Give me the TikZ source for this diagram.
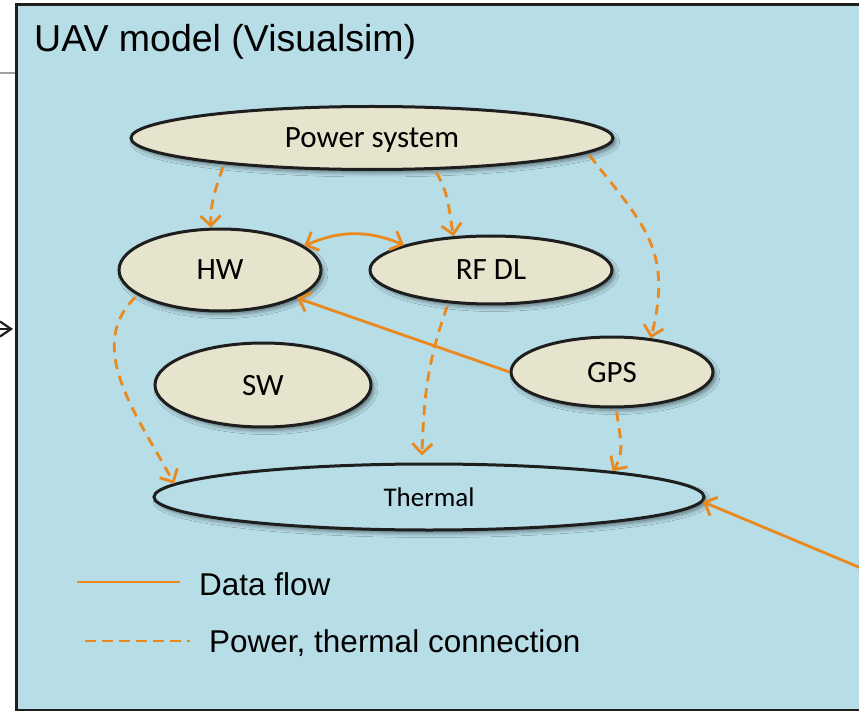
\documentclass[tikz,border=0pt]{standalone}
\usepackage{fontspec}
\setmainfont{Carlito}
\newfontfamily\arialfont{Liberation Sans}
\usetikzlibrary{arrows.meta,shapes.geometric,shadows.blur}
\definecolor{boxblue}{HTML}{B7DDE7}
\definecolor{cream}{HTML}{E6E4CD}
\definecolor{flow}{HTML}{E9891E}
\definecolor{edge}{HTML}{1E1E1E}

\begin{document}
\begin{tikzpicture}[x=1pt,y=-1pt,
  blk/.style={ellipse, draw=edge, line width=3pt, fill=cream, inner sep=0pt,
    text depth=0pt, font=\fontsize{31}{36}\selectfont,
    blur shadow={shadow xshift=3pt, shadow yshift=-3.5pt, shadow blur radius=4pt, shadow opacity=45}},
  tip/.style={-{Straight Barb[length=10pt,width=20pt]}},
  pwr/.style={draw=flow, line width=2.8pt, dash pattern=on 10pt off 7pt, shorten <=3pt, tip},
  data/.style={draw=flow, line width=2.8pt, tip},
  legtext/.style={anchor=base west, inner sep=0pt, font=\arialfont\fontsize{31.5}{36}\selectfont},
]
\useasboundingbox (0,0) rectangle (859,711);
\clip (0,0) rectangle (859,711);

% model frame
\node[draw=edge, line width=3pt, fill=boxblue, minimum width=890pt, minimum height=705pt,
      anchor=north west, inner sep=0pt] (uav) at (14.5,3.5) {};
\node[anchor=base west, inner sep=0pt, font=\arialfont\fontsize{37.5}{42}\selectfont] (title)
      at (34,52) {UAV model (Visualsim)};

% stubs entering from the left
\coordinate (gl) at (0,73);
\draw[gray!75, line width=1.3pt] (gl) -- (gl -| uav.west);
\coordinate (inA) at (-10,329);
\draw[edge, line width=2.2pt, -{Straight Barb[length=11pt,width=15pt]}, shorten >=1.5pt]
      (inA) -- (inA -| uav.west);

% blocks
\node[blk, minimum width=482pt, minimum height=63pt] (pow) at (372,138) {Power system};
\node[blk, minimum width=202pt, minimum height=82pt] (hw)  at (220,270) {HW};
\node[blk, minimum width=242pt, minimum height=68pt] (rf)  at (491,270) {RF DL};
\node[blk, minimum width=216pt, minimum height=84pt] (sw)  at (263,385) {SW};
\node[blk, minimum width=202pt, minimum height=70pt] (gps) at (612,372) {GPS};
\node[blk, fill=boxblue, minimum width=550pt, minimum height=66pt, font=\fontsize{27}{32}\selectfont]
      (th) at (429,497) {Thermal};

% power / thermal connections
\draw[pwr] (pow.190) to[out=-108,in=92] (hw.102);
\draw[pwr] (pow.-27) to[out=-58,in=100] (rf.138);
\draw[pwr] (pow.-4) to[out=-52,in=76,looseness=1.2] (gps.41);
\draw[pwr] (hw.197) to[out=224,in=118] (th.177);
\draw[pwr, shorten >=7pt] (rf.218) to[out=-110,in=88] (th.102);
\draw[pwr] (gps.-83) to[out=-85,in=56] (th.8.8);

% data flow
\draw[data, {Straight Barb[length=10pt,width=20pt]}-{Straight Barb[length=10pt,width=20pt]}]
      (hw.16) to[bend left=23] (rf.164);
\draw[data] (gps.west) -- (hw.-20);
\coordinate (ext) at (880,576);
\draw[data] (ext) -- (th.-1.6);

% legend
\coordinate (la) at (77,582);
\coordinate (lb) at (180,582);
\draw[flow, line width=2.3pt] (la) -- (lb);
\node[legtext] (ldata) at (199,595) {Data flow};
\coordinate (lc) at (85,641);
\coordinate (ld) at (190,641);
\draw[flow, line width=2.3pt, dash pattern=on 11pt off 6pt] (lc) -- (ld);
\node[legtext] (lpow) at (209,652) {Power, thermal connection};
\end{tikzpicture}
\end{document}
